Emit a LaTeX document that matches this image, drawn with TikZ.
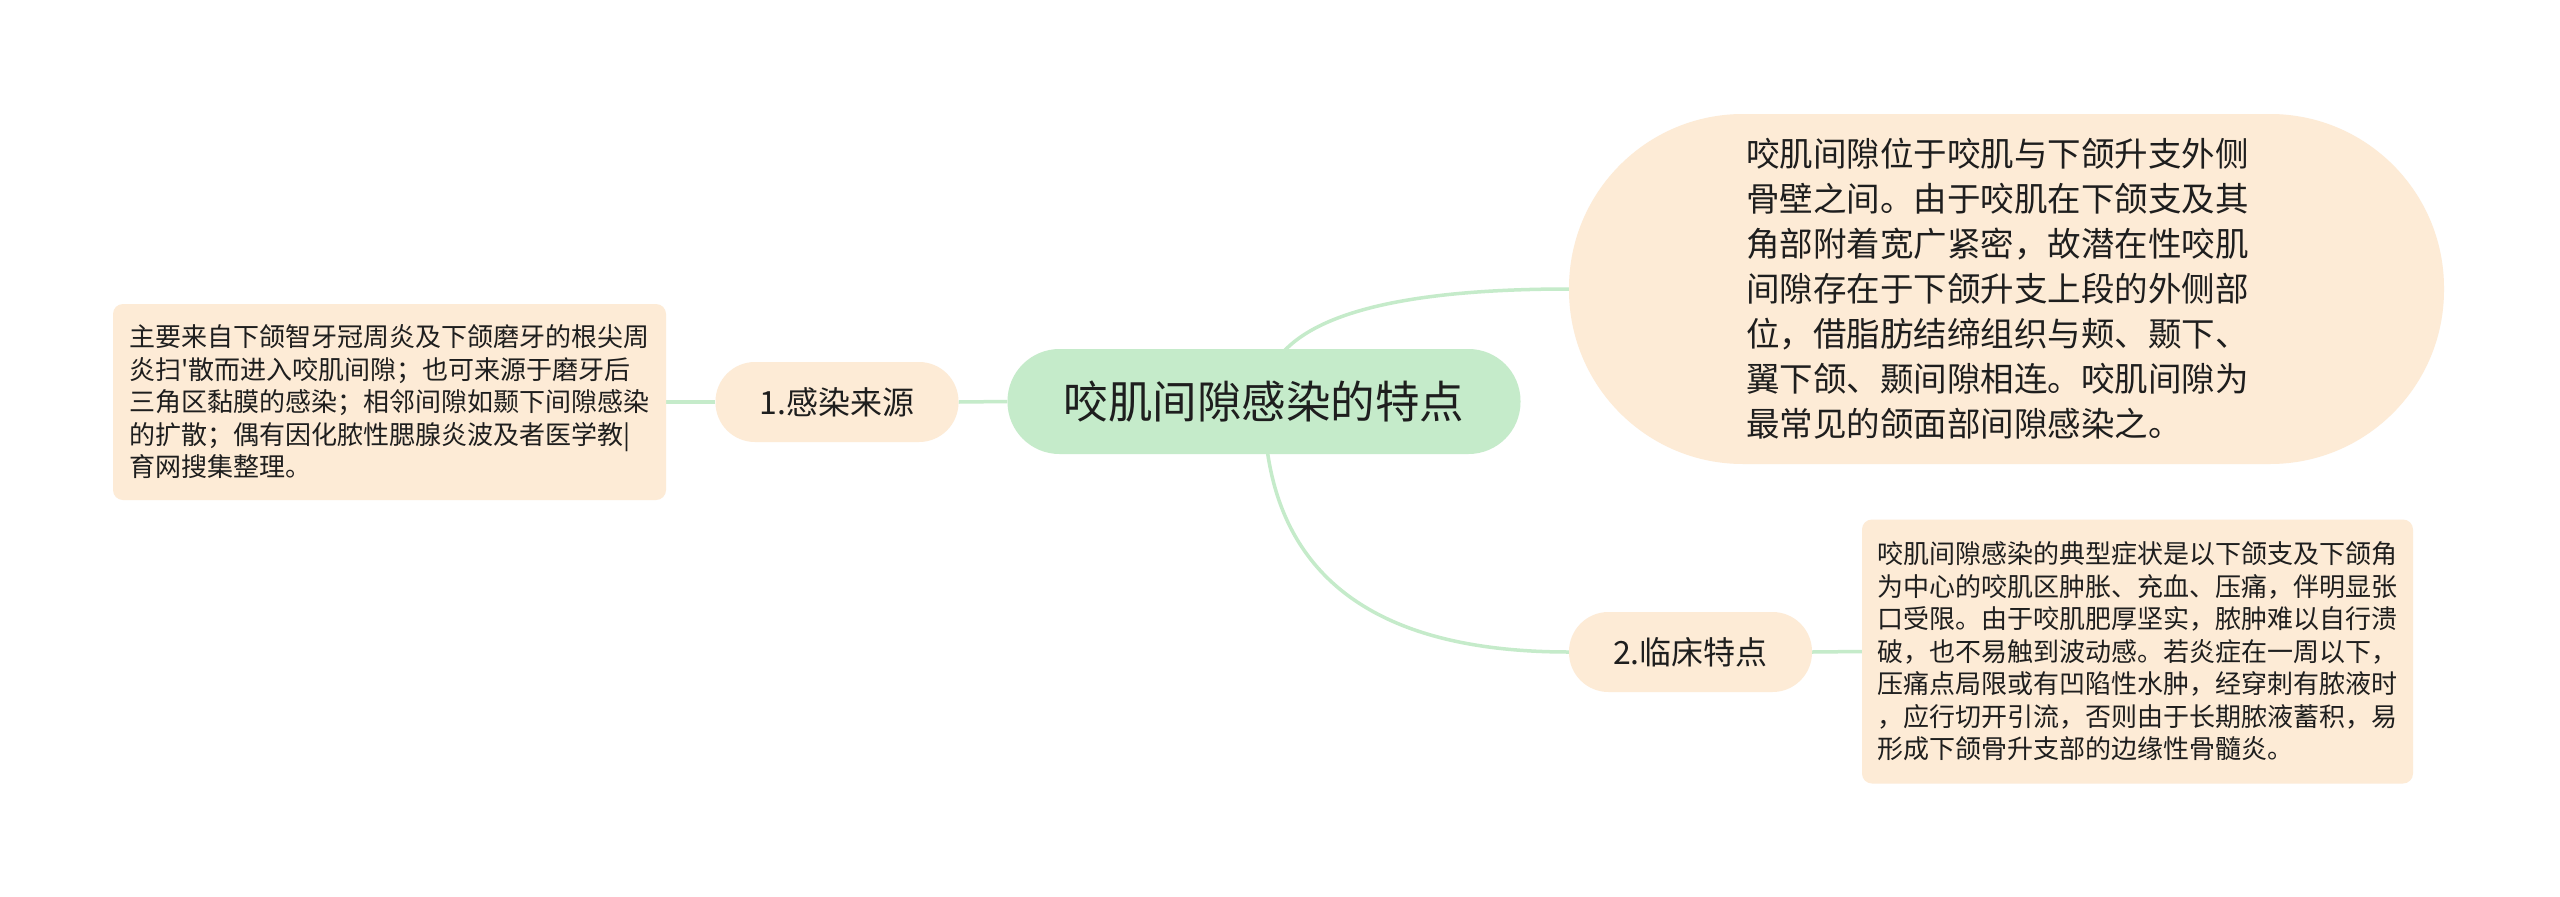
\documentclass[tikz,border=0pt]{standalone}
\usepackage{fontspec}
\setmainfont{Noto Sans CJK SC}
\newfontfamily\aposfont{Noto Sans CJK SC}
\usetikzlibrary{calc,backgrounds}
\definecolor{peach}{HTML}{FDEBD6}
\definecolor{mint}{HTML}{C5EBCA}
\definecolor{ink}{HTML}{1E1E1E}
\begin{document}
\begin{tikzpicture}[x=1pt,y=-1pt,
  every node/.style={text=ink, inner sep=0pt},
  root/.style={fill=mint, rounded corners=52pt, minimum width=513pt, minimum height=105pt, font=\fontsize{44.5}{50}\selectfont},
  branch/.style={fill=peach, rounded corners=39.5pt, minimum width=243pt, minimum height=80pt, font=\fontsize{32}{36}\selectfont},
  leaf/.style={fill=peach, rounded corners=10pt, align=left, font=\fontsize{26}{32.5}\selectfont},
  bigleaf/.style={fill=peach, rounded corners=174pt, minimum width=875pt, minimum height=350pt, align=left, font=\fontsize{33.5}{45}\selectfont},
  link/.style={draw=mint, line width=3.5pt}]
\useasboundingbox (0,0) rectangle (2560,897);

\node[root] (c) at (1264,401.5) {咬肌间隙感染的特点};
\node[branch] (n1) at (837,402) {1.感染来源};
\node[branch] (n2) at (1690.5,652) {2.临床特点};
\node[leaf, minimum width=553pt, minimum height=196pt] (l1) at (389.5,402) {主要来自下颌智牙冠周炎及下颌磨牙的根尖周\\炎扫{\aposfont '}散而进入咬肌间隙；也可来源于磨牙后\\三角区黏膜的感染；相邻间隙如颞下间隙感染\\的扩散；偶有因化脓性腮腺炎波及者医学教|\\育网搜集整理。};
\node[leaf, minimum width=551pt, minimum height=264pt] (l2) at (2137.5,651.5) {咬肌间隙感染的典型症状是以下颌支及下颌角\\为中心的咬肌区肿胀、充血、压痛，伴明显张\\口受限。由于咬肌肥厚坚实，脓肿难以自行溃\\破，也不易触到波动感。若炎症在一周以下，\\压痛点局限或有凹陷性水肿，经穿刺有脓液时\\，应行切开引流，否则由于长期脓液蓄积，易\\形成下颌骨升支部的边缘性骨髓炎。};
\node[bigleaf] (b) at (2006.5,289) {咬肌间隙位于咬肌与下颌升支外侧\rule{18pt}{0pt}\\骨壁之间。由于咬肌在下颌支及其\\角部附着宽广紧密，故潜在性咬肌\\间隙存在于下颌升支上段的外侧部\\位，借脂肪结缔组织与颊、颞下、\\翼下颌、颞间隙相连。咬肌间隙为\\最常见的颌面部间隙感染之。};

\begin{scope}[on background layer]
\fill[white] (0,0) rectangle (2560,897);
\draw[link] (c.west) -- (n1.east);
\draw[link] (n1.west) -- (l1.east);
\draw[link] (n2.east) -- (l2.west);
\draw[link] (c.center) .. controls ($(c.center)!0.667!(c.center |- b.west)$) and ($(b.west)!0.667!(c.center |- b.west)$) .. (b.west);
\draw[link] (c.center) .. controls ($(c.center)!0.667!(c.center |- n2.west)$) and ($(n2.west)!0.667!(c.center |- n2.west)$) .. (n2.west);
\end{scope}
\end{tikzpicture}
\end{document}
